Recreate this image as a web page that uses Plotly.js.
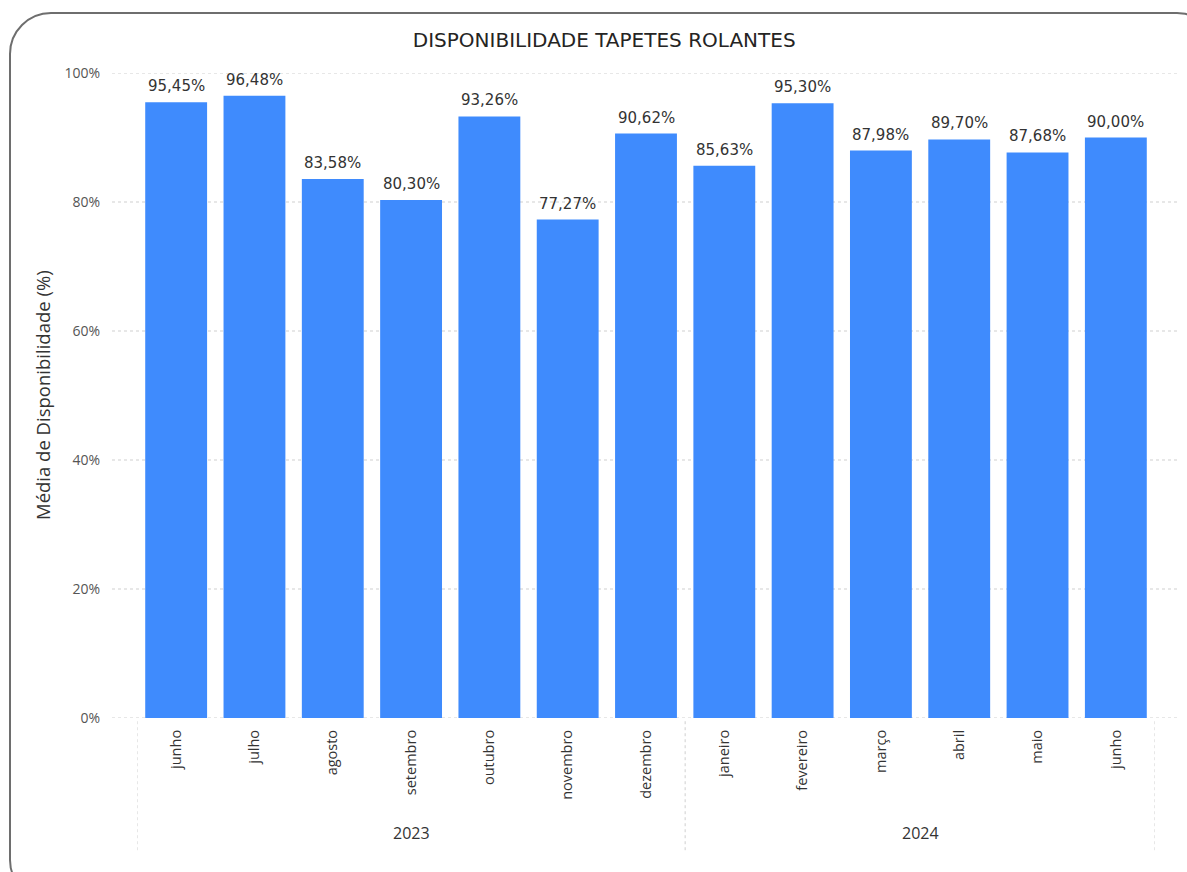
<!DOCTYPE html>
<html><head><meta charset="utf-8">
<script src="https://cdn.plot.ly/plotly-3.0.1.min.js"></script>
<style>
html,body{margin:0;padding:0;width:1187px;height:872px;overflow:hidden;background:#fff;}
#frame{position:absolute;left:9px;top:12px;width:1210px;height:890px;border:2px solid #6e6e6e;border-radius:42px;box-sizing:border-box;}
#chart{position:absolute;left:0;top:0;width:1187px;height:872px;}
</style></head>
<body>
<div id="frame"></div>
<div id="chart"></div>
<script>
const months = ["junho","julho","agosto","setembro","outubro","novembro","dezembro","janeiro","fevereiro","março","abril","maio","junho"];
const years = ["2023","2023","2023","2023","2023","2023","2023","2024","2024","2024","2024","2024","2024"];
const values = [95.45,96.48,83.58,80.30,93.26,77.27,90.62,85.63,95.30,87.98,89.70,87.68,90.00];
const yTicks = [0,20,40,60,80,100];
const yTickText = ["0%","20%","40%","60%","80%","100%"];
const chartTitle = "DISPONIBILIDADE TAPETES ROLANTES";
const yTitle = "Média de Disponibilidade (%)";

const xIdx = months.map((m,i)=>i);
const labels = values.map(v=>v.toFixed(2).replace('.',',')+'%');

const plotL = 137, plotR = 1155, W = 1187;
const pw = plotR - plotL;
const gx0 = (112 - plotL)/pw, gx1 = (1180 - plotL)/pw;

const shapes = yTicks.map(t=>({type:'line',xref:'paper',yref:'y',x0:gx0,x1:gx1,y0:t,y1:t,layer:'below',
  line:{color:'#cfcfcf',width:1,dash:'dot'}}));

const groups = [];
years.forEach((y,i)=>{ if(!groups.length || groups[groups.length-1].y!==y) groups.push({y,s:i,e:i}); else groups[groups.length-1].e=i; });
const bounds = [groups[0].s-0.5].concat(groups.map(g=>g.e+0.5));
bounds.forEach(b=>shapes.push({type:'line',xref:'x',yref:'paper',x0:b,x1:b,y0:-0.005,y1:-0.205,
  line:{color:'#cfcfcf',width:1,dash:'dot'}}));

const annotations = groups.map(g=>({xref:'x',yref:'paper',x:(g.s+g.e)/2,y:-0.178,text:g.y,showarrow:false,
  yanchor:'middle',font:{family:'Open Sans, sans-serif',size:16,color:'#333'}}));
annotations.push({xref:'paper',yref:'paper',x:(42-plotL)/pw,y:(718-395)/645,text:yTitle,textangle:-90,showarrow:false,
  xanchor:'center',yanchor:'middle',font:{family:'Open Sans, sans-serif',size:18.5,color:'#333'}});
values.forEach((v,i)=>annotations.push({xref:'x',yref:'y',x:i,y:v,text:labels[i],showarrow:false,
  yanchor:'bottom',yshift:5,font:{family:'DejaVu Sans, sans-serif',size:15,color:'#333'}}));

const trace = {type:'bar',x:xIdx,y:values,marker:{color:'#3F8BFD'},width:0.79,hoverinfo:'skip'};

const layout = {
  width:1187,height:872,
  margin:{l:plotL,r:W-plotR,t:73,b:154},
  paper_bgcolor:'rgba(0,0,0,0)',plot_bgcolor:'rgba(0,0,0,0)',
  title:{text:chartTitle,x:0.509,xanchor:'center',y:0.954,yanchor:'middle',
    font:{family:'DejaVu Sans, sans-serif',size:20,color:'#252423'}},
  xaxis:{range:[-0.5,12.5],tickvals:xIdx,ticktext:months,tickangle:-90,showgrid:false,zeroline:false,
    showline:false,ticks:'',ticklabelstandoff:8,tickfont:{family:'Open Sans, sans-serif',size:14.5,color:'#333'}},
  yaxis:{range:[0,100],tickvals:yTicks,ticktext:yTickText,showgrid:false,zeroline:false,showline:false,ticks:'',
    ticklabelstandoff:36,tickfont:{family:'Open Sans, sans-serif',size:14,color:'#555'}},
  shapes,annotations,showlegend:false
};
Plotly.newPlot('chart',[trace],layout,{displayModeBar:false,staticPlot:true});
</script>
</body></html>
